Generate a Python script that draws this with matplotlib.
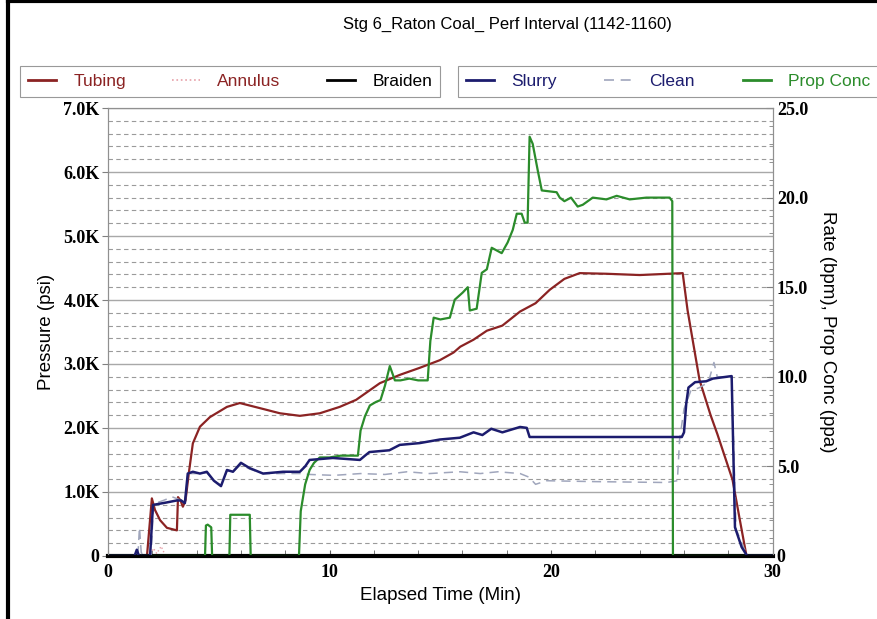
import matplotlib
matplotlib.use("Agg")
import matplotlib.pyplot as plt
from matplotlib.lines import Line2D
from matplotlib.ticker import MultipleLocator, FixedLocator

# ---------------------------------------------------------
# data
# ---------------------------------------------------------
tubing_t = [0, 1.76, 1.98, 2.12, 2.35, 2.66, 3.11, 3.16, 3.27, 3.38, 3.5, 3.65, 3.83, 4.15, 4.6,
            5.37, 5.95, 6.86, 7.76, 8.66, 9.56, 10.46, 11.2, 12.27, 13.17, 14.07, 14.98, 15.6,
            15.9, 16.5, 17.1, 17.8, 18.6, 19.3, 19.94, 20.6, 21.29, 22.5, 24.0, 25.94, 26.16,
            26.7, 27.2, 27.51, 28.19, 28.5, 28.82, 30]
tubing_psi = [0, 0, 900, 720, 560, 440, 400, 920, 870, 770, 870, 1300, 1760, 2020, 2170,
              2330, 2390, 2310, 2230, 2190, 2230, 2330, 2440, 2700, 2830, 2940, 3060, 3180,
              3270, 3380, 3520, 3600, 3820, 3950, 4160, 4330, 4420, 4410, 4390, 4420, 3840,
              2750, 2200, 1900, 1190, 600, 0, 0]

annulus_t = [0, 1.9, 2.05, 2.2, 2.4, 2.6, 30]
annulus_psi = [0, 0, 120, 40, 150, 0, 0]

braiden_t = [0, 30]
braiden_psi = [0, 0]

slurry_t = [0, 1.2, 1.3, 1.4, 1.9, 2.03, 2.66, 3.11, 3.3, 3.47, 3.6, 3.83, 4.15, 4.46, 4.78,
            5.1, 5.37, 5.64, 6.0, 6.4, 7.0, 7.9, 8.66, 8.9, 9.1, 10.15, 11.37, 11.6, 11.8,
            12.7, 13.17, 14.07, 14.98, 15.88, 16.5, 16.9, 17.3, 17.8, 18.6, 18.9, 19.03,
            19.1, 25.9, 26.0, 26.1, 26.2, 26.5, 27.0, 27.3, 28.15, 28.3, 28.6, 28.85, 30]
slurry_bpm = [0, 0, 0.35, 0, 0, 2.85, 2.99, 3.1, 3.1, 2.95, 4.6, 4.7, 4.6, 4.7, 4.2,
              3.9, 4.8, 4.7, 5.2, 4.9, 4.6, 4.7, 4.7, 5.0, 5.36, 5.47, 5.36, 5.6, 5.8,
              5.9, 6.2, 6.3, 6.5, 6.6, 6.9, 6.75, 7.1, 6.9, 7.2, 7.15, 6.64,
              6.64, 6.64, 6.9, 8.5, 9.4, 9.7, 9.75, 9.9, 10.04, 1.6, 0.5, 0, 0]

clean_t = [0, 1.35, 1.42, 1.5, 1.6, 1.95, 2.05, 2.5, 2.9, 3.11, 3.3, 3.47, 3.6, 3.83, 4.15,
           4.46, 4.78, 5.1, 5.37, 5.64, 6.0, 6.4, 7.0, 8.66, 9.1, 10.2, 11.4, 12.5, 13.5,
           14.5, 15.9, 16.8, 17.6, 18.6, 19.0, 19.3, 19.8, 22.0, 25.2, 25.7, 25.8, 26.0,
           26.3, 26.7, 27.1, 27.35, 27.5, 28.15, 28.35, 28.85, 30]
clean_bpm = [0, 0, 1.6, 0.2, 0, 0, 2.9, 3.1, 3.3, 3.2, 3.1, 2.9, 4.6, 4.6, 4.6,
             4.65, 4.2, 3.95, 4.75, 4.7, 5.1, 4.85, 4.6, 4.6, 4.55, 4.5, 4.6, 4.55, 4.7,
             4.6, 4.7, 4.6, 4.7, 4.6, 4.4, 4.0, 4.2, 4.15, 4.1, 4.2, 6.5, 8.2,
             9.2, 9.4, 9.7, 10.8, 10.0, 10.0, 1.5, 0, 0]

prop_t = [0, 4.38, 4.42, 4.5, 4.66, 4.7, 5.48, 5.52, 6.4, 6.44, 8.62, 8.7, 8.9, 9.1, 9.3,
          9.56, 10.0, 10.5, 11.0, 11.28, 11.4, 11.6, 11.82, 12.1, 12.3, 12.5, 12.72, 12.95,
          13.2, 13.6, 14.0, 14.43, 14.55, 14.7, 15.0, 15.43, 15.65, 16.01, 16.24, 16.33,
          16.64, 16.87, 17.1, 17.32, 17.77, 18.04, 18.27, 18.45, 18.67, 18.81, 18.94,
          19.03, 19.17, 19.4, 19.58, 20.25, 20.39, 20.6, 20.9, 21.2, 21.43, 21.88, 22.5,
          22.96, 23.55, 24.3, 25.03, 25.35, 25.47, 25.5, 30]
prop_ppa = [0, 0, 1.7, 1.75, 1.6, 0, 0, 2.3, 2.3, 0, 0, 2.5, 4.0, 4.8, 5.2,
            5.5, 5.5, 5.6, 5.6, 5.6, 7.0, 7.8, 8.4, 8.6, 8.7, 9.5, 10.6, 9.8,
            9.8, 9.9, 9.8, 9.8, 12.0, 13.3, 13.2, 13.3, 14.3, 14.7, 15.0, 13.7,
            13.8, 15.8, 16.0, 17.2, 16.9, 17.5, 18.2, 19.1, 19.1, 18.6, 18.6,
            23.4, 23.0, 21.5, 20.4, 20.3, 20.0, 19.8, 20.0, 19.5, 19.6, 20.0, 19.9,
            20.1, 19.9, 20.0, 20.0, 20.0, 19.8, 0, 0]

psi_ticks = [0, 1000, 2000, 3000, 4000, 5000, 6000, 7000]
psi_labels = ["0", "1.0K", "2.0K", "3.0K", "4.0K", "5.0K", "6.0K", "7.0K"]
rate_ticks = [0, 5, 10, 15, 20, 25]
rate_labels = ["0", "5.0", "10.0", "15.0", "20.0", "25.0"]
time_ticks = [0, 10, 20, 30]

# ---------------------------------------------------------
# styles
# ---------------------------------------------------------
plt.rcParams["font.family"] = "Liberation Sans"
tick_font = {"family": "Liberation Serif", "weight": "bold", "size": 13}

c_tubing = "#8b2323"
c_annulus = "#e6a0a8"
c_slurry = "#1c1c6e"
c_clean = "#a0a6bc"
c_prop = "#2b8c2b"

fig = plt.figure(figsize=(8.78, 6.19), dpi=100)
ax = fig.add_axes([0.123, 0.1018, 0.757, 0.7237])
ax2 = ax.twinx()

# grid: solid every 1000 psi, dashed every 200 psi
ax.yaxis.set_major_locator(FixedLocator(psi_ticks))
ax.yaxis.set_minor_locator(MultipleLocator(200))
ax.grid(True, which="major", axis="y", color="#a8a8a8", lw=1.0, ls="-")
ax.grid(True, which="minor", axis="y", color="#9a9a9a", lw=0.8, ls=(0, (4, 3)))
ax.set_axisbelow(True)

l_tub, = ax.plot(tubing_t, tubing_psi, color=c_tubing, lw=1.6, label="Tubing")
l_ann, = ax.plot(annulus_t, annulus_psi, color=c_annulus, lw=1.0, ls=":", label="Annulus")
l_brd, = ax.plot(braiden_t, braiden_psi, color="black", lw=3, label="Braiden", clip_on=False)

l_cln, = ax2.plot(clean_t, clean_bpm, color=c_clean, lw=1.1, ls=(0, (6, 4)), label="Clean")
l_prp, = ax2.plot(prop_t, prop_ppa, color=c_prop, lw=1.6, label="Prop Conc")
l_slr, = ax2.plot(slurry_t, slurry_bpm, color=c_slurry, lw=1.8, label="Slurry")

ax.set_xlim(0, 30)
ax.set_ylim(0, 7000)
ax2.set_ylim(0, 25)

ax.set_xticks(time_ticks)
ax.set_xticklabels([str(v) for v in time_ticks], fontdict=tick_font)
ax.xaxis.set_minor_locator(MultipleLocator(2))
ax.tick_params(axis="x", which="both", direction="in", length=4, color="#606060", pad=6)
ax.set_yticklabels(psi_labels, fontdict=tick_font)
ax.tick_params(axis="y", which="major", direction="out", length=4, color="#808080", pad=2)
ax.tick_params(axis="y", which="minor", length=0)

ax2.set_yticks(rate_ticks)
ax2.set_yticklabels(rate_labels, fontdict=tick_font)
ax2.yaxis.set_minor_locator(MultipleLocator(1))
ax2.tick_params(axis="y", which="major", direction="in", length=5, color="#808080", pad=3)
ax2.tick_params(axis="y", which="minor", direction="in", length=3, color="#808080")

for a in (ax, ax2):
    for s in ("left", "right", "top"):
        a.spines[s].set_color("#909090")
        a.spines[s].set_linewidth(0.8)
    a.spines["bottom"].set_color("black")
    a.spines["bottom"].set_linewidth(2)

ax.set_xlabel("Elapsed Time (Min)", fontsize=13.5, labelpad=4)
ax.set_ylabel("Pressure (psi)", fontsize=13.5, labelpad=6)
ax2.set_ylabel("Rate (bpm), Prop Conc (ppa)", fontsize=13.5, rotation=270, labelpad=20)

fig.text(0.578, 0.961, "Stg 6_Raton Coal_ Perf Interval (1142-1160)",
         ha="center", va="center", fontsize=12)

# two boxed legends above the plot
leg_kw = dict(loc="lower left", mode="expand", ncol=3, fontsize=12.5, frameon=True,
              fancybox=False, edgecolor="#808080", handlelength=1.6, handletextpad=1.0,
              borderaxespad=0, borderpad=0.45, columnspacing=1.0)
leg1 = fig.legend(handles=[l_tub, l_ann, l_brd], bbox_to_anchor=(0.023, 0.843, 0.478, 0.05), **leg_kw)
leg2 = fig.legend(handles=[l_slr, l_cln, l_prp], bbox_to_anchor=(0.522, 0.843, 0.478, 0.05), **leg_kw)
for lg, cols in ((leg1, [c_tubing, c_tubing, "black"]), (leg2, [c_slurry, c_slurry, c_prop])):
    lg.get_frame().set_linewidth(0.8)
    for txt, c in zip(lg.get_texts(), cols):
        txt.set_color(c)
    for h in lg.legend_handles:
        h.set_linewidth(2 if h.get_linestyle() == "-" else 1.2)

# picture frame on the left and top
fig.add_artist(Line2D([0.009, 0.009], [0, 1], color="black", lw=3, transform=fig.transFigure))
fig.add_artist(Line2D([0.009, 1], [0.998, 0.998], color="black", lw=3, transform=fig.transFigure))

fig.savefig("out.png", dpi=100)
